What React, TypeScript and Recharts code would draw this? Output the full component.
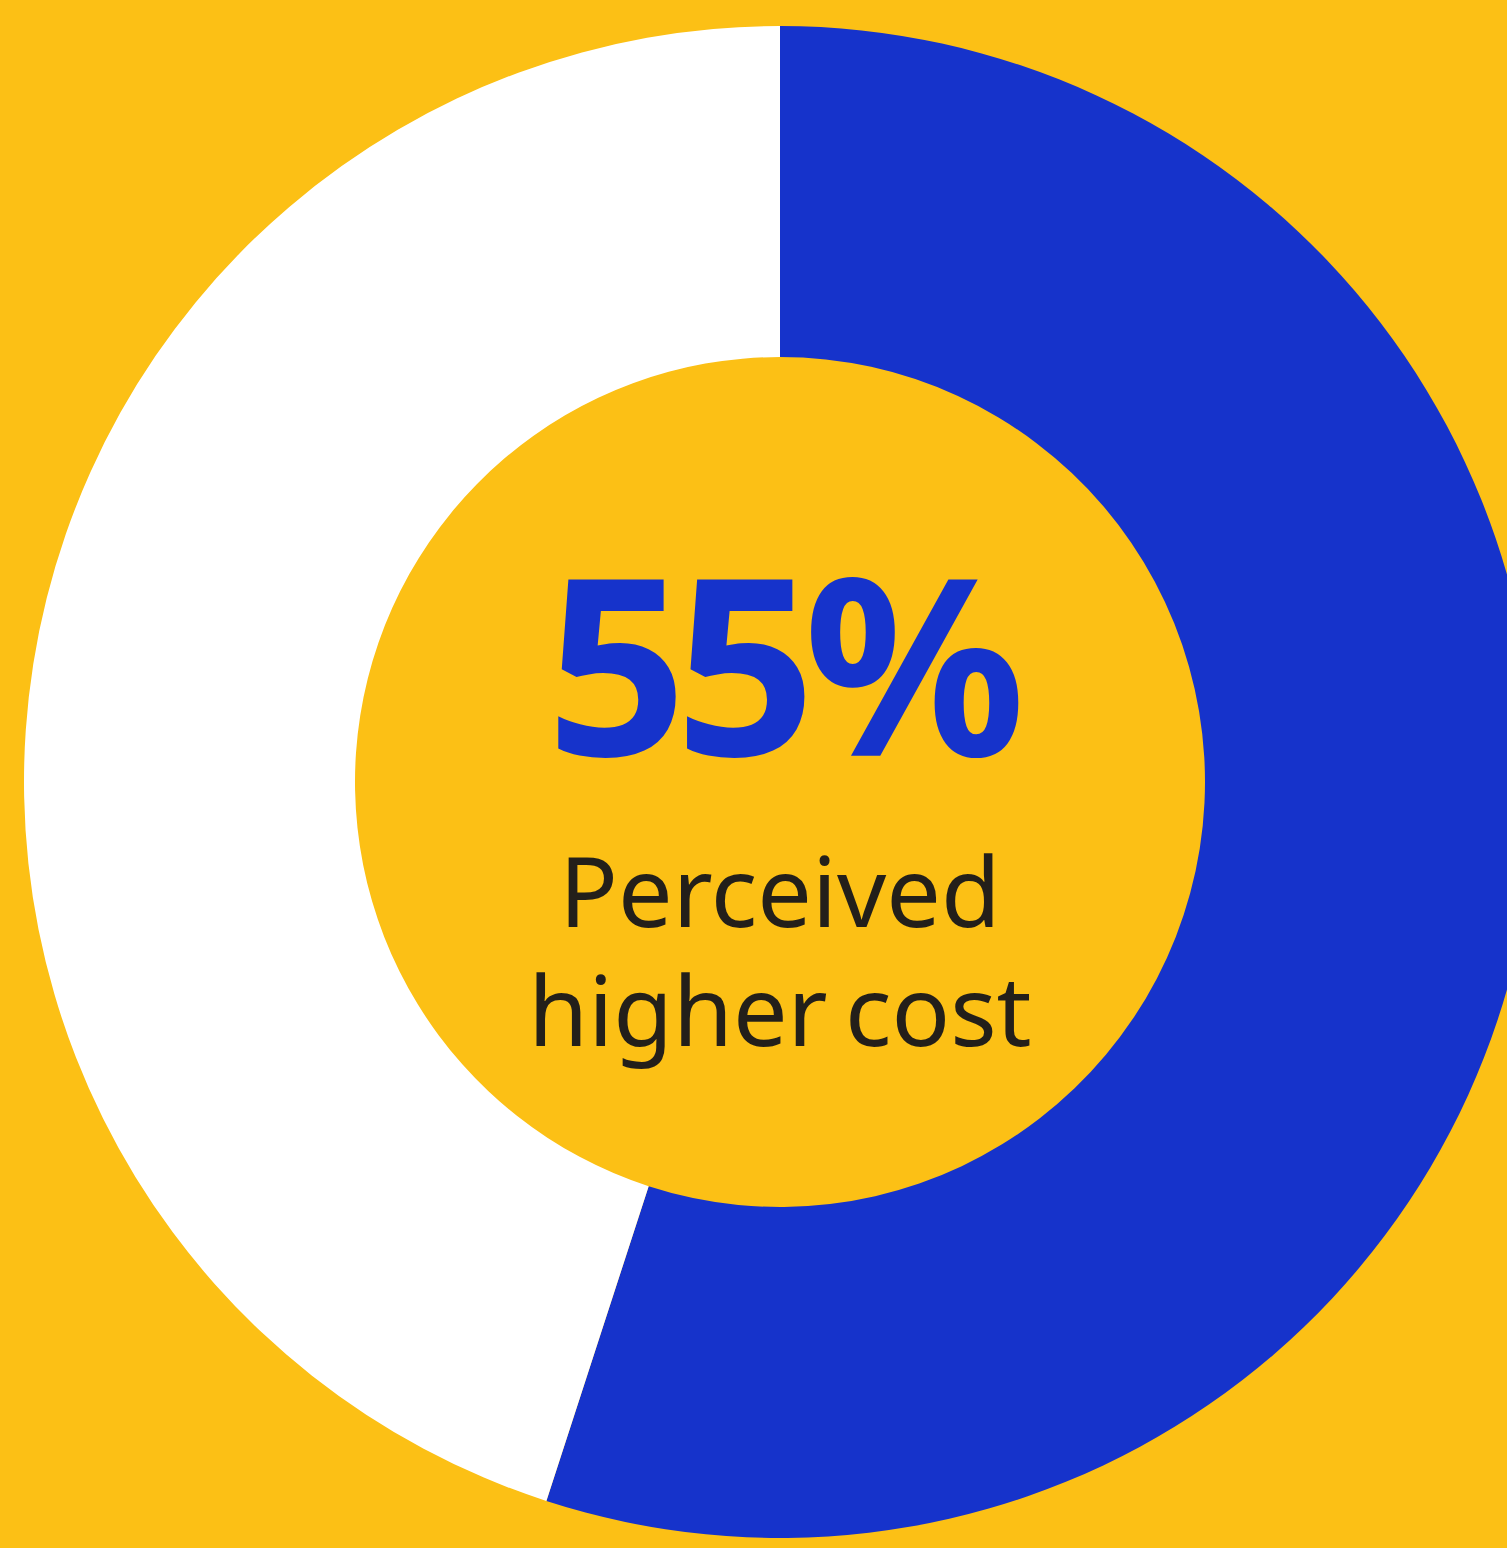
import { Label, Pie, PieChart, Cell } from "recharts";

const segments = ["Perceived higher cost", "Other"];
const shares = [55, 45];
const colors = ["#1633CB", "#FFFFFF"];
const headline = "55%";
const captionLines = ["Perceived", "higher cost"];

const chartData = segments.map((name, i) => ({ name, value: shares[i] }));

const CX = 780;
const CY = 782;

function CenterText() {
  return (
    <g>
      <text
        x={CX}
        y={CY - 26}
        textAnchor="middle"
        fill="#1633CB"
        fontFamily="Noto Sans"
        fontWeight={700}
        fontSize={246}
        letterSpacing={-12}
      >
        {headline}
      </text>
      {captionLines.map((line, i) => (
        <text
          key={line}
          x={CX}
          y={CY + 145 + i * 119}
          textAnchor="middle"
          fill="#231F1A"
          fontFamily="Noto Sans"
          fontSize={97}
          wordSpacing={-8}
        >
          {line}
        </text>
      ))}
    </g>
  );
}

export default function App() {
  return (
    <div
      style={{
        position: "absolute",
        left: 0,
        top: 0,
        width: 1507,
        height: 1548,
        overflow: "hidden",
        background: "#FCC015",
      }}
    >
      <PieChart width={1507} height={1548} margin={{ top: 0, right: 0, bottom: 0, left: 0 }}>
        <Pie
          data={chartData}
          dataKey="value"
          nameKey="name"
          cx={CX}
          cy={CY}
          innerRadius={425}
          outerRadius={756}
          startAngle={90}
          endAngle={-270}
          stroke="none"
          isAnimationActive={false}
        >
          {chartData.map((d, i) => (
            <Cell key={d.name} fill={colors[i]} />
          ))}
          <Label position="center" content={<CenterText />} />
        </Pie>
      </PieChart>
    </div>
  );
}
